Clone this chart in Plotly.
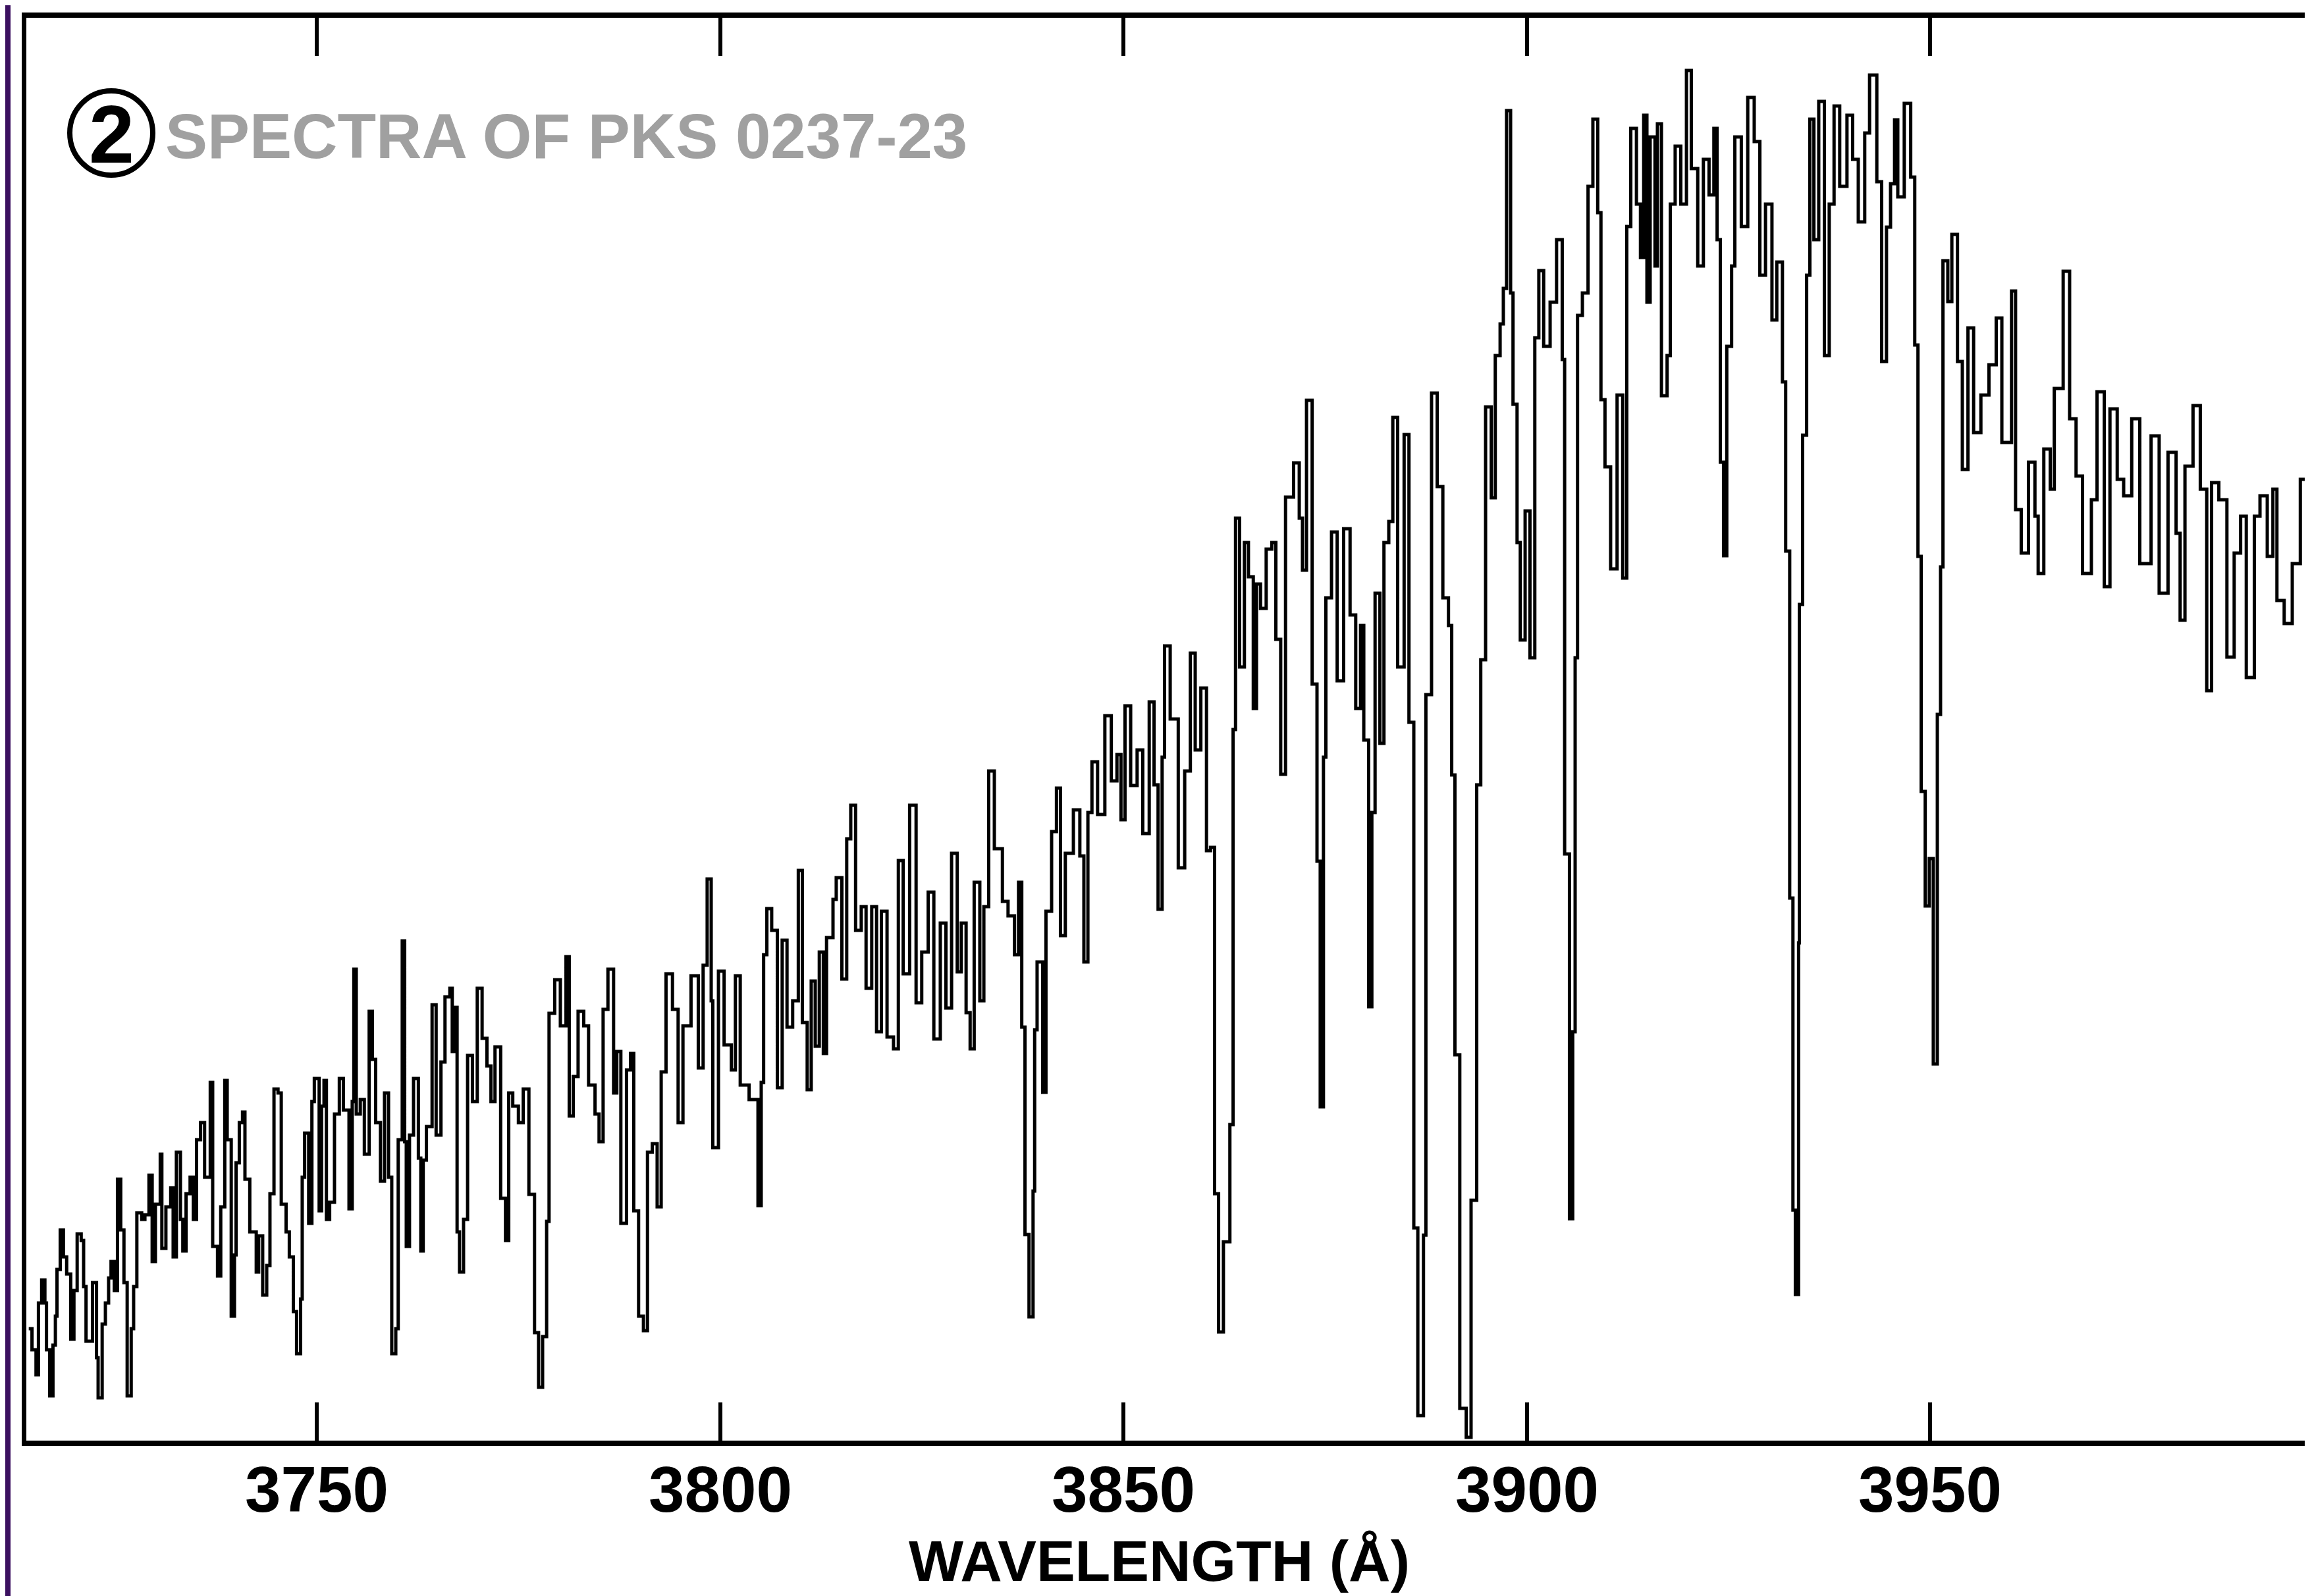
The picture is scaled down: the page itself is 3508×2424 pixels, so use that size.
import plotly.graph_objects as go

# Wavelength (Angstrom) and relative flux (arbitrary units)
wavelength = [
    3714.3, 3714.7, 3715.2, 3715.5, 3715.9, 3716.3, 3716.5, 3716.9, 3717.3, 3717.6,
    3717.8, 3718.2, 3718.6, 3719.0, 3719.5, 3719.9, 3720.3, 3720.8, 3721.1, 3721.4,
    3722.2, 3722.7, 3722.9, 3723.4, 3723.8, 3724.2, 3724.5, 3724.9, 3725.3, 3725.7,
    3726.1, 3726.5, 3727.0, 3727.3, 3727.7, 3728.3, 3728.7, 3729.2, 3729.6, 3730.0,
    3730.6, 3730.8, 3731.3, 3731.9, 3732.2, 3732.6, 3733.1, 3733.4, 3733.8, 3734.3,
    3734.7, 3735.1, 3735.6, 3736.1, 3736.8, 3737.1, 3737.7, 3738.1, 3738.6, 3738.9,
    3739.4, 3739.8, 3740.0, 3740.4, 3740.8, 3741.1, 3741.7, 3742.5, 3742.8, 3743.3,
    3743.8, 3744.2, 3744.7, 3745.2, 3745.6, 3746.2, 3746.6, 3747.1, 3747.5, 3748.0,
    3748.2, 3748.5, 3749.0, 3749.4, 3749.7, 3750.3, 3750.6, 3750.9, 3751.2, 3751.6,
    3752.2, 3752.8, 3753.3, 3754.0, 3754.4, 3754.6, 3754.9, 3755.4, 3755.9, 3756.5,
    3756.9, 3757.3, 3757.9, 3758.4, 3758.9, 3759.3, 3759.8, 3760.1, 3760.6, 3760.9,
    3761.1, 3761.5, 3762.0, 3762.6, 3762.9, 3763.2, 3763.6, 3764.3, 3764.8, 3765.4,
    3765.9, 3766.5, 3766.8, 3767.1, 3767.4, 3767.7, 3768.2, 3768.7, 3769.3, 3769.9,
    3770.5, 3771.1, 3771.6, 3772.1, 3772.8, 3773.4, 3773.8, 3774.3, 3775.0, 3775.6,
    3776.3, 3777.0, 3777.5, 3778.0, 3778.5, 3778.8, 3779.5, 3780.2, 3780.9, 3781.3,
    3781.8, 3782.4, 3783.1, 3783.7, 3784.5, 3785.0, 3785.5, 3786.1, 3786.8, 3787.2,
    3787.7, 3788.4, 3788.9, 3789.3, 3789.9, 3790.5, 3791.0, 3791.6, 3792.2, 3792.7,
    3793.3, 3794.1, 3794.8, 3795.4, 3796.4, 3797.3, 3797.9, 3798.4, 3798.9, 3799.1,
    3799.8, 3800.5, 3801.4, 3801.9, 3802.5, 3803.6, 3804.7, 3805.1, 3805.4, 3805.8,
    3806.4, 3807.1, 3807.7, 3808.3, 3809.0, 3809.7, 3810.2, 3810.8, 3811.3, 3811.8,
    3812.3, 3812.8, 3813.2, 3814.0, 3814.4, 3815.1, 3815.7, 3816.2, 3816.8, 3817.5,
    3818.1, 3818.8, 3819.4, 3820.0, 3820.7, 3821.5, 3822.1, 3822.7, 3823.5, 3824.3,
    3825.0, 3825.8, 3826.5, 3827.3, 3828.0, 3828.7, 3829.4, 3829.9, 3830.5, 3831.0,
    3831.5, 3832.2, 3832.7, 3833.3, 3834.0, 3835.0, 3835.7, 3836.5, 3837.0, 3837.4,
    3837.8, 3838.3, 3838.8, 3839.0, 3839.3, 3840.0, 3840.4, 3841.1, 3841.7, 3842.2,
    3842.8, 3843.8, 3844.6, 3845.1, 3845.6, 3846.1, 3846.8, 3847.7, 3848.5, 3849.2,
    3849.7, 3850.2, 3850.9, 3851.7, 3852.4, 3853.2, 3853.8, 3854.3, 3854.8, 3855.1,
    3855.8, 3856.8, 3857.6, 3858.3, 3858.9, 3859.6, 3860.3, 3860.8, 3861.3, 3861.8,
    3862.4, 3863.2, 3863.6, 3863.9, 3864.4, 3865.0, 3865.5, 3866.1, 3866.5, 3867.0,
    3867.7, 3868.4, 3868.9, 3869.5, 3870.1, 3871.1, 3871.8, 3872.2, 3872.7, 3873.4,
    3874.0, 3874.4, 3874.8, 3875.1, 3875.8, 3876.5, 3877.3, 3878.1, 3878.8, 3879.4,
    3879.8, 3880.4, 3880.8, 3881.2, 3881.8, 3882.3, 3882.9, 3883.4, 3884.0, 3884.8,
    3885.4, 3886.0, 3886.5, 3887.2, 3887.5, 3888.2, 3888.9, 3889.6, 3890.3, 3890.7,
    3891.1, 3891.7, 3892.5, 3893.1, 3893.8, 3894.3, 3894.9, 3895.6, 3896.1, 3896.7,
    3897.1, 3897.5, 3898.0, 3898.3, 3898.8, 3899.2, 3899.8, 3900.4, 3901.0, 3901.5,
    3902.1, 3902.9, 3903.7, 3904.4, 3904.7, 3905.3, 3905.7, 3906.0, 3906.3, 3906.9,
    3907.6, 3908.2, 3908.8, 3909.2, 3909.7, 3910.4, 3911.2, 3911.9, 3912.4, 3912.9,
    3913.6, 3914.1, 3914.5, 3914.9, 3915.3, 3915.9, 3916.2, 3916.7, 3917.4, 3917.8,
    3918.4, 3919.1, 3919.8, 3920.4, 3921.2, 3921.9, 3922.6, 3923.2, 3923.6, 3924.0,
    3924.4, 3924.8, 3925.4, 3925.8, 3926.6, 3927.4, 3928.2, 3928.9, 3929.6, 3930.4,
    3931.0, 3931.7, 3932.1, 3932.6, 3933.0, 3933.3, 3933.7, 3933.8, 3934.2, 3934.7,
    3935.1, 3935.6, 3936.2, 3936.9, 3937.5, 3938.1, 3938.8, 3939.7, 3940.4, 3941.1,
    3941.9, 3942.5, 3943.4, 3944.0, 3944.6, 3945.1, 3945.6, 3946.0, 3946.8, 3947.6,
    3948.1, 3948.5, 3948.9, 3949.4, 3949.9, 3950.4, 3950.9, 3951.3, 3951.6, 3952.2,
    3952.7, 3953.4, 3954.0, 3954.7, 3955.4, 3956.3, 3957.3, 3958.2, 3958.9, 3960.1,
    3960.6, 3961.3, 3962.2, 3963.0, 3963.4, 3964.1, 3964.9, 3965.4, 3966.5, 3967.3,
    3968.1, 3968.9, 3970.0, 3970.7, 3971.6, 3972.3, 3973.2, 3974.0, 3975.0, 3976.0,
    3977.4, 3978.4, 3979.5, 3980.5, 3981.0, 3981.6, 3982.6, 3983.5, 3984.3, 3984.9,
    3985.8, 3986.8, 3987.7, 3988.5, 3989.2, 3990.2, 3990.9, 3991.8, 3992.5, 3993.0,
    3993.9, 3994.9, 3995.9, 3996.8,
]

flux = [
    170, 138, 100, 209, 244, 209, 138, 68, 145, 189,
    260, 320, 279, 253, 154, 228, 314, 304, 234, 151,
    240, 126, 65, 177, 209, 247, 272, 228, 397, 320,
    240, 68, 170, 234, 346, 336, 343, 403, 272, 359,
    435, 292, 355, 384, 279, 438, 336, 288, 375, 400,
    336, 457, 483, 400, 544, 295, 250, 355, 547, 457,
    189, 282, 422, 483, 499, 397, 317, 256, 311, 221,
    266, 375, 534, 528, 359, 317, 279, 196, 132, 215,
    400, 467, 330, 515, 550, 349, 508, 547, 336, 362,
    496, 550, 502, 352, 515, 716, 496, 518, 435, 652,
    579, 483, 394, 528, 400, 132, 170, 457, 759, 454,
    295, 464, 550, 429, 288, 426, 477, 662, 464, 575,
    674, 687, 591, 658, 317, 256, 336, 585, 515, 687,
    611, 569, 515, 598, 368, 304, 528, 508, 483, 534,
    374, 164, 81, 158, 333, 649, 700, 630, 735, 493,
    553, 652, 630, 540, 496, 454, 655, 716, 528, 591,
    330, 563, 588, 349, 189, 167, 438, 451, 355, 560,
    709, 655, 483, 630, 706, 566, 722, 853, 668, 445,
    713, 601, 563, 706, 540, 518, 357, 544, 738, 808,
    775, 536, 760, 628, 668, 866, 635, 533, 698, 599,
    742, 588, 764, 822, 855, 701, 914, 965, 775, 811,
    687, 811, 621, 804, 613, 595, 881, 709, 965, 665,
    742, 833, 610, 786, 657, 892, 712, 786, 650, 595,
    848, 668, 811, 1017, 899, 819, 797, 738, 848, 628,
    313, 188, 379, 624, 727, 529, 804, 925, 991, 767,
    892, 958, 888, 727, 954, 1031, 951, 1101, 1002, 1042,
    943, 1116, 995, 1049, 922, 1122, 996, 807, 1038, 1207,
    1096, 870, 1017, 1196, 1049, 1143, 896, 901, 375, 165,
    302, 480, 1080, 1401, 1175, 1364, 1312, 1112, 1301, 1264,
    1354, 1364, 1217, 1012, 1433, 1485, 1401, 1322, 1580, 1149,
    880, 507, 1038, 1280, 1380, 1154, 1385, 1254, 1112, 1238,
    1064, 659, 954, 1287, 1059, 1364, 1396, 1554, 1175, 1528,
    1091, 323, 38, 312, 1133, 1591, 1449, 1280, 1238, 1011,
    586, 49, 5, 365, 996, 1186, 1570, 1432, 1648, 1696,
    1750, 2020, 1743, 1574, 1364, 1216, 1412, 1189, 1675, 1777,
    1662, 1729, 1824, 1642, 891, 337, 621, 1189, 1709, 1743,
    1905, 2007, 1865, 1581, 1479, 1324, 1588, 1310, 1844, 1993,
    1878, 1797, 2013, 1729, 1980, 1784, 2000, 1587, 1648, 1878,
    1966, 1878, 2081, 1932, 1784, 1946, 1892, 1993, 1824, 1486,
    1344, 1662, 1784, 1980, 1844, 2040, 1973, 1770, 1878, 1702,
    1790, 1608, 1351, 824, 350, 222, 756, 1270, 1527, 1770,
    2007, 1824, 2034, 1648, 1878, 2027, 1905, 2013, 1946, 1851,
    1986, 2074, 1912, 1639, 1843, 1909, 2006, 1889, 2031, 1919,
    1664, 1343, 986, 812, 884, 572, 1103, 1327, 1792, 1730,
    1832, 1639, 1475, 1690, 1531, 1588, 1634, 1705, 1516, 1746,
    1414, 1348, 1486, 1404, 1317, 1506, 1445, 1598, 1776, 1552,
    1465, 1317, 1429, 1593, 1297, 1567, 1460, 1435, 1552, 1332,
    1526, 1287, 1501, 1378, 1246, 1480, 1572, 1445, 1139, 1455,
    1429, 1190, 1348, 1404, 1159, 1404, 1435, 1343, 1445, 1276,
    1241, 1332, 1460, 1292,
]

tick_values = [3750, 3800, 3850, 3900, 3950]
tick_labels = ["3750", "3800", "3850", "3900", "3950"]
x_range = [3714.0, 3997.1]
y_range = [0, 2161]

title_text = "SPECTRA OF PKS 0237-23"
circle_label = "2"
x_title = "WAVELENGTH (Å)"

# page has an 8px body margin; size the figure so it fits the 3508x2424 window
OFF = 8
W, H = 3500, 2416
ML, MR, MT, MB = 32, 0, 19, 236
PW = W - ML - MR
PH = H - MT - MB


def px(xp):
    """page x (pixels) -> paper fraction"""
    return (xp - OFF - ML) / PW


def py(yp):
    """page y (pixels) -> paper fraction"""
    return (H - MB - (yp - OFF)) / PH


FONT = "Liberation Sans, Arial, sans-serif"

fig = go.Figure()
fig.add_trace(go.Scatter(
    x=wavelength, y=flux, mode="lines",
    line=dict(color="black", width=5, shape="hv"),
    showlegend=False, hoverinfo="skip",
))

fig.update_layout(
    width=W, height=H,
    margin=dict(l=ML, r=MR, t=MT, b=MB, pad=0, autoexpand=False),
    paper_bgcolor="white", plot_bgcolor="white",
    xaxis=dict(
        range=x_range, tickvals=tick_values, ticktext=tick_labels,
        ticks="inside", ticklen=58, tickwidth=6, tickcolor="black",
        showline=True, linewidth=8, linecolor="black", mirror="ticks",
        showgrid=False, zeroline=False, showticklabels=False,
        automargin=False,
    ),
    yaxis=dict(
        range=y_range, showticklabels=False, ticks="",
        showline=True, linewidth=7, linecolor="black", mirror=False,
        showgrid=False, zeroline=False, automargin=False,
    ),
)

# tick labels placed on the x scale
for tv, tl in zip(tick_values, tick_labels):
    fig.add_annotation(xref="x", yref="paper", x=tv, y=py(2262),
                       text="<b>%s</b>" % tl, showarrow=False,
                       xanchor="center", yanchor="middle",
                       font=dict(family=FONT, size=98, color="black"))

# circled number
fig.add_shape(type="circle", xref="paper", yref="paper",
              x0=px(106), x1=px(232), y0=py(266), y1=py(138),
              line=dict(color="black", width=8), fillcolor="rgba(0,0,0,0)")
fig.add_annotation(xref="paper", yref="paper", x=px(169), y=py(204),
                   text="<b>%s</b>" % circle_label, showarrow=False,
                   xanchor="center", yanchor="middle",
                   font=dict(family=FONT, size=124, color="black"))
fig.add_annotation(xref="paper", yref="paper", x=px(249), y=py(207),
                   text="<b>%s</b>" % title_text, showarrow=False,
                   xanchor="left", yanchor="middle",
                   font=dict(family=FONT, size=96, color="#a0a0a0"))
fig.add_annotation(xref="paper", yref="paper", x=px(1760), y=py(2370),
                   text="<b>%s</b>" % x_title, showarrow=False,
                   xanchor="center", yanchor="middle",
                   font=dict(family=FONT, size=88, color="black"))

# scan edge line at far left
fig.add_shape(type="line", xref="paper", yref="paper",
              x0=px(12), x1=px(12), y0=py(2424), y1=py(OFF),
              line=dict(color="#3b1060", width=8))

fig.write_html("out.html")
